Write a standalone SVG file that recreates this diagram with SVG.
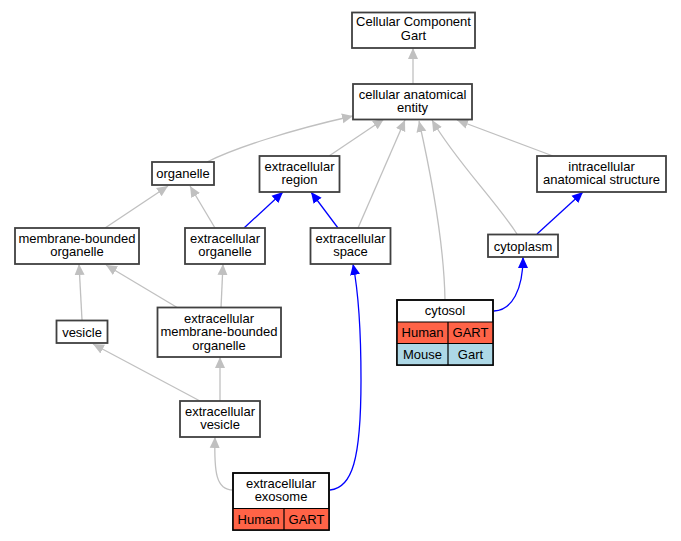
<svg xmlns="http://www.w3.org/2000/svg" width="681" height="541" viewBox="0 0 681 541">
<defs>
<marker id="ag" viewBox="0 -6 11 12" refX="11" refY="0" markerWidth="11" markerHeight="12" markerUnits="userSpaceOnUse" orient="auto"><path d="M0,-5 L11,0 L0,5 z" fill="#c0c0c0"/></marker>
<marker id="ab" viewBox="0 -6 11 12" refX="11" refY="0" markerWidth="11" markerHeight="12" markerUnits="userSpaceOnUse" orient="auto"><path d="M0,-5 L11,0 L0,5 z" fill="#0000ff"/></marker>
<style>
.n{fill:#ffffff;stroke:#404040;stroke-width:1.8}
.c{stroke:#000000;stroke-width:1.2}
.h{fill:#ff6347}
.m{fill:#add8e6}
text{font-family:"Liberation Sans",Arial,sans-serif;font-size:13px;text-anchor:middle;fill:#000}
.eg{fill:none;stroke:#c0c0c0;stroke-width:1.3;marker-end:url(#ag)}
.eb{fill:none;stroke:#0000ff;stroke-width:1.3;marker-end:url(#ab)}
</style>
</defs>
<rect width="681" height="541" fill="#ffffff"/>
<g id="edges">
<path class="eg" d="M413,84 L413,48"/>
<path class="eg" d="M207,162 C235,148 290,130 353,116"/>
<path class="eg" d="M329,156 L384,119"/>
<path class="eg" d="M358,228 L405,120"/>
<path class="eg" d="M445,300 C444,240 430,170 419,121"/>
<path class="eg" d="M517,234 C495,200 455,160 432,120"/>
<path class="eg" d="M553,156 L457,120"/>
<path class="eg" d="M105,228 L168,186"/>
<path class="eg" d="M215,228 L190,186"/>
<path class="eg" d="M82,320 L79,264"/>
<path class="eg" d="M178,308 L106,265"/>
<path class="eg" d="M221,308 L223,264"/>
<path class="eg" d="M200,401 L93,344"/>
<path class="eg" d="M220,401 L220,357"/>
<path class="eg" d="M233,490 C216,490 214,472 215,437"/>
<path class="eb" d="M244,228 L283,192"/>
<path class="eb" d="M338,228 L311,192"/>
<path class="eb" d="M537,234 L583,192"/>
<path class="eb" d="M494,311 C512,310 523,290 523,257"/>
<path class="eb" d="M330,490 C352,488 361,460 361,380 C361,320 358,290 353,264"/>
</g>
<g id="n_ccg"><rect class="n" x="352" y="12.5" width="123" height="35.5"/><text x="413.5" y="26">Cellular Component</text><text x="413.5" y="40">Gart</text></g>
<g id="n_cae"><rect class="n" x="353" y="84" width="119" height="35.5"/><text x="412.5" y="98.5">cellular anatomical</text><text x="412.5" y="112">entity</text></g>
<g id="n_organelle"><rect class="n" x="152" y="162" width="62" height="23"/><text x="183" y="178">organelle</text></g>
<g id="n_er"><rect class="n" x="259.5" y="156" width="80" height="36"/><text x="299.5" y="170.5">extracellular</text><text x="299.5" y="184">region</text></g>
<g id="n_ias"><rect class="n" x="537" y="156" width="129" height="36"/><text x="601.5" y="170.5">intracellular</text><text x="601.5" y="184">anatomical structure</text></g>
<g id="n_mbo"><rect class="n" x="15" y="228" width="124" height="36"/><text x="77" y="242.5">membrane-bounded</text><text x="77" y="256">organelle</text></g>
<g id="n_eo"><rect class="n" x="185" y="228" width="80" height="36"/><text x="225" y="242.5">extracellular</text><text x="225" y="256">organelle</text></g>
<g id="n_es"><rect class="n" x="310.5" y="228" width="80" height="36"/><text x="350.5" y="242.5">extracellular</text><text x="350.5" y="256">space</text></g>
<g id="n_cytoplasm"><rect class="n" x="488" y="234.5" width="70" height="22.5"/><text x="523" y="250.5">cytoplasm</text></g>
<g id="n_cytosol">
<rect class="n" x="397" y="300" width="96" height="65"/>
<rect class="h" x="397" y="322" width="51" height="21.5"/><rect class="h" x="448" y="322" width="45" height="21.5"/>
<rect class="m" x="397" y="343.5" width="51" height="21.5"/><rect class="m" x="448" y="343.5" width="45" height="21.5"/>
<path class="c" fill="none" d="M397,322 H493 M397,343.5 H493 M448,322 V365"/>
<rect x="397" y="300" width="96" height="65" fill="none" stroke="#000" stroke-width="1.5"/>
<text x="445" y="315">cytosol</text>
<text x="422.5" y="337">Human</text><text x="470.5" y="337">GART</text>
<text x="422.5" y="358.5">Mouse</text><text x="470.5" y="358.5">Gart</text>
</g>
<g id="n_vesicle"><rect class="n" x="56.5" y="320.5" width="51" height="22.5"/><text x="82" y="336.5">vesicle</text></g>
<g id="n_embo"><rect class="n" x="157.5" y="307.5" width="123.5" height="49.5"/><text x="219" y="322.5">extracellular</text><text x="219" y="336">membrane-bounded</text><text x="219" y="349.5">organelle</text></g>
<g id="n_ev"><rect class="n" x="180" y="401" width="80" height="36"/><text x="220" y="415.5">extracellular</text><text x="220" y="429">vesicle</text></g>
<g id="n_exosome">
<rect class="n" x="233" y="473" width="96" height="57"/>
<rect class="h" x="233" y="508.5" width="51" height="21.5"/><rect class="h" x="284" y="508.5" width="45" height="21.5"/>
<path class="c" fill="none" d="M233,508.5 H329 M284,508.5 V530"/>
<rect x="233" y="473" width="96" height="57" fill="none" stroke="#000" stroke-width="1.5"/>
<text x="281" y="487.5">extracellular</text><text x="281" y="501">exosome</text>
<text x="258.5" y="524">Human</text><text x="306.5" y="524">GART</text>
</g>
</svg>
